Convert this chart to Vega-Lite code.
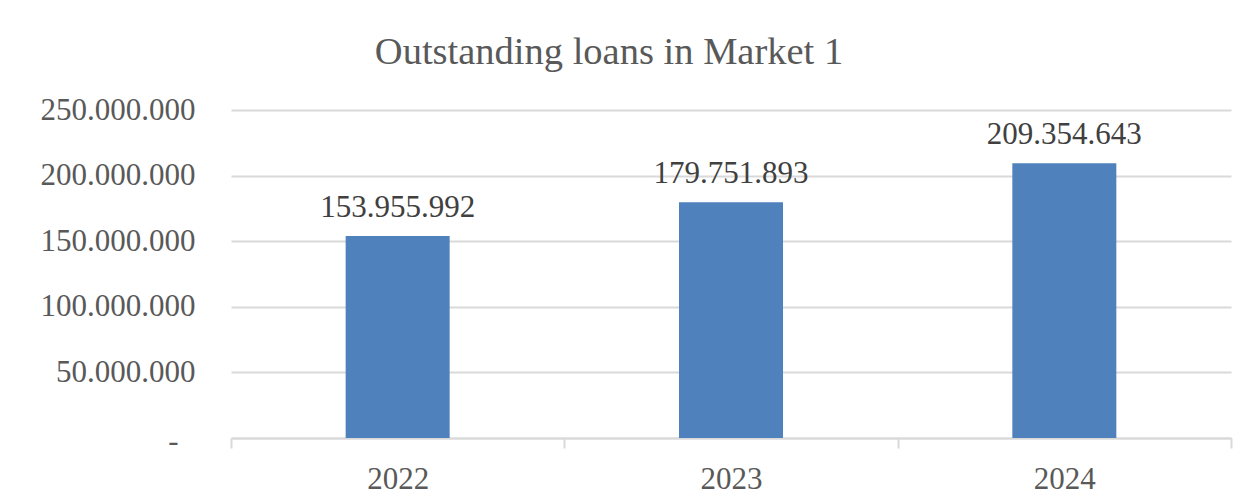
{
  "$schema": "https://vega.github.io/schema/vega-lite/v6.json",
  "width": 1000,
  "height": 328,
  "autosize": {"type": "none"},
  "padding": {"left": 231, "top": 110, "right": 16, "bottom": 65},
  "background": "white",
  "config": {
    "locale": {"number": {"decimal": ",", "thousands": ".", "grouping": [3], "currency": ["", ""]}},
    "view": {"stroke": null},
    "font": "Liberation Serif"
  },
  "title": {
    "text": "Outstanding loans in Market 1",
    "font": "Liberation Serif",
    "fontSize": 38.5,
    "fontWeight": "normal",
    "color": "#595959",
    "anchor": "middle",
    "dx": -122,
    "dy": 37,
    "baseline": "alphabetic",
    "offset": 29
  },
  "data": {
    "values": [
      {"year": "2022", "loans": 153955992},
      {"year": "2023", "loans": 179751893},
      {"year": "2024", "loans": 209354643}
    ]
  },
  "encoding": {
    "x": {
      "field": "year",
      "type": "nominal",
      "sort": null,
      "scale": {"paddingInner": 0, "paddingOuter": 0},
      "axis": {
        "title": null,
        "labelAngle": 0,
        "labelFont": "Liberation Serif",
        "labelFontSize": 31,
        "labelColor": "#595959",
        "labelBaseline": "alphabetic",
        "labelPadding": 40,
        "tickBand": "extent",
        "tickSize": 10,
        "tickColor": "#d9d9d9",
        "tickWidth": 2,
        "domainColor": "#d9d9d9",
        "domainWidth": 2,
        "grid": false
      }
    },
    "y": {
      "field": "loans",
      "type": "quantitative",
      "scale": {"domain": [0, 250000000], "nice": false},
      "axis": {
        "title": null,
        "values": [0, 50000000, 100000000, 150000000, 200000000, 250000000],
        "format": ",d",
        "labelExpr": "datum.value == 0 ? '-' : datum.label",
        "labelFont": "Liberation Serif",
        "labelFontSize": 31,
        "labelColor": "#595959",
        "labelPadding": {"condition": {"test": "datum.value == 0", "value": 53}, "value": 36},
        "labelOffset": {"condition": {"test": "datum.value == 0", "value": 3}, "value": 0},
        "ticks": false,
        "domain": false,
        "grid": true,
        "gridColor": "#d9d9d9",
        "gridWidth": 2
      }
    }
  },
  "layer": [
    {
      "mark": {"type": "bar", "color": "#4f81bd", "width": {"band": 0.312}}
    },
    {
      "mark": {
        "type": "text",
        "baseline": "alphabetic",
        "dy": -19,
        "font": "Liberation Serif",
        "fontSize": 31,
        "color": "#404040"
      },
      "encoding": {
        "text": {"field": "loans", "type": "quantitative", "format": ",d"}
      }
    }
  ]
}
